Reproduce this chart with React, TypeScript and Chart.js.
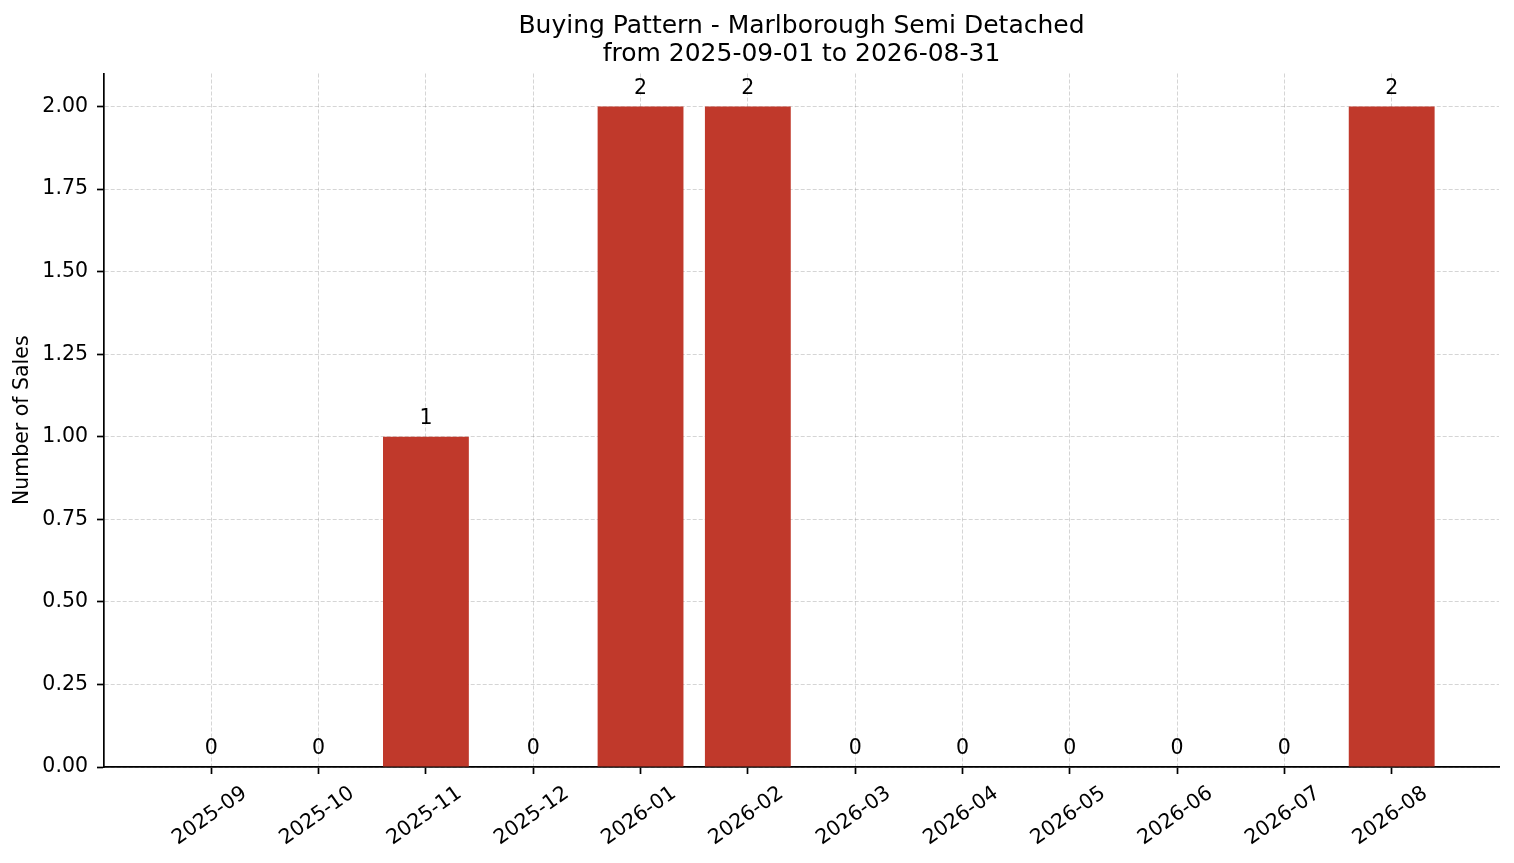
import React, { useEffect, useRef } from "react";
import { Chart, registerables } from "chart.js";

Chart.register(...registerables);

const months: string[] = [
  "2025-09", "2025-10", "2025-11", "2025-12", "2026-01", "2026-02",
  "2026-03", "2026-04", "2026-05", "2026-06", "2026-07", "2026-08",
];
const sales: number[] = [0, 0, 1, 0, 2, 2, 0, 0, 0, 0, 0, 2];
const titleLines: string[] = [
  "Buying Pattern - Marlborough Semi Detached",
  "from 2025-09-01 to 2026-08-31",
];
const yAxisTitle = "Number of Sales";
const yMax = 2.1;
const yStep = 0.25;

const FONT = "'DejaVu Sans', 'Liberation Sans', sans-serif";
const BAR_COLOR = "#c0392b";
const GRID_COLOR = "rgba(128,128,128,0.33)";

const valueLabels = {
  id: "valueLabels",
  afterDraw(chart: any) {
    const ctx = chart.ctx;
    const meta = chart.getDatasetMeta(0);
    ctx.save();
    ctx.font = `20.5px ${FONT}`;
    ctx.fillStyle = "#000";
    ctx.textAlign = "center";
    ctx.textBaseline = "alphabetic";
    meta.data.forEach((bar: any, i: number) => {
      ctx.fillText(String(sales[i]), bar.x, bar.y - 13);
    });
    ctx.restore();
  },
};

const rotatedXLabels = {
  id: "rotatedXLabels",
  afterDraw(chart: any) {
    const ctx = chart.ctx;
    const xs = chart.scales.x;
    const bottom = chart.chartArea.bottom;
    ctx.save();
    ctx.font = `20.5px ${FONT}`;
    ctx.fillStyle = "#000";
    ctx.textAlign = "center";
    ctx.textBaseline = "middle";
    months.forEach((m, i) => {
      const x = xs.getPixelForValue(i) - 1.5;
      ctx.save();
      ctx.translate(x, bottom + 49);
      ctx.rotate((-35 * Math.PI) / 180);
      ctx.fillText(m, 0, 0);
      ctx.restore();
    });
    ctx.restore();
  },
};

function App() {
  const ref = useRef<HTMLCanvasElement | null>(null);

  useEffect(() => {
    if (!ref.current) return;
    const chart = new Chart(ref.current, {
      type: "bar",
      data: {
        datasets: [
          {
            data: sales.map((v, i) => ({ x: i, y: v })),
            backgroundColor: BAR_COLOR,
            borderWidth: 0,
            categoryPercentage: 1,
            barPercentage: 0.8,
          },
        ],
      },
      options: {
        responsive: false,
        animation: false,
        devicePixelRatio: 1,
        layout: { padding: { left: 0, right: 15, top: 0, bottom: 0 } },
        plugins: {
          legend: { display: false },
          tooltip: { enabled: false },
          title: {
            display: true,
            text: titleLines,
            fullSize: false,
            color: "#000",
            font: { family: FONT, size: 25, weight: "normal", lineHeight: 1.11 },
            padding: { top: 13, bottom: 5 },
          },
        },
        scales: {
          x: {
            type: "linear",
            min: -1,
            max: 12,
            z: 1,
            offset: false,
            afterBuildTicks: (axis: any) => {
              axis.ticks = axis.ticks.filter(
                (t: any) => t.value >= 0 && t.value <= months.length - 1
              );
            },
            afterFit: (axis: any) => {
              axis.height = 96;
            },
            ticks: { display: false, stepSize: 1 },
            grid: {
              offset: false,
              color: GRID_COLOR,
              lineWidth: 1,
              tickLength: 7,
              tickWidth: 1.7,
              tickColor: "#000",
              tickBorderDash: [],
            },
            border: { display: true, color: "#000", width: 1.7, dash: [4, 2] },
          },
          y: {
            type: "linear",
            min: 0,
            max: yMax,
            z: 1,
            afterBuildTicks: (axis: any) => {
              axis.ticks = axis.ticks.filter((t: any) => t.value <= 2.0001);
            },
            afterFit: (axis: any) => {
              axis.width = 104;
            },
            ticks: {
              stepSize: yStep,
              color: "#000",
              padding: 9,
              font: { family: FONT, size: 20.5 },
              callback: (v: any) => Number(v).toFixed(2),
            },
            grid: {
              color: GRID_COLOR,
              lineWidth: 1,
              tickLength: 7,
              tickWidth: 1.7,
              tickColor: "#000",
              tickBorderDash: [],
            },
            border: { display: true, color: "#000", width: 1.7, dash: [4, 2] },
            title: {
              display: true,
              text: yAxisTitle,
              color: "#000",
              font: { family: FONT, size: 20.5, lineHeight: 1.2 },
              padding: { top: 10.5, bottom: 0 },
            },
          },
        },
      } as any,
      plugins: [valueLabels, rotatedXLabels],
    });
    return () => chart.destroy();
  }, []);

  return (
    <div style={{ position: "absolute", left: 0, top: 0, width: 1514, height: 863, background: "#fff" }}>
      <canvas ref={ref} width={1514} height={863} style={{ width: 1514, height: 863, display: "block" }} />
    </div>
  );
}

export default App;
